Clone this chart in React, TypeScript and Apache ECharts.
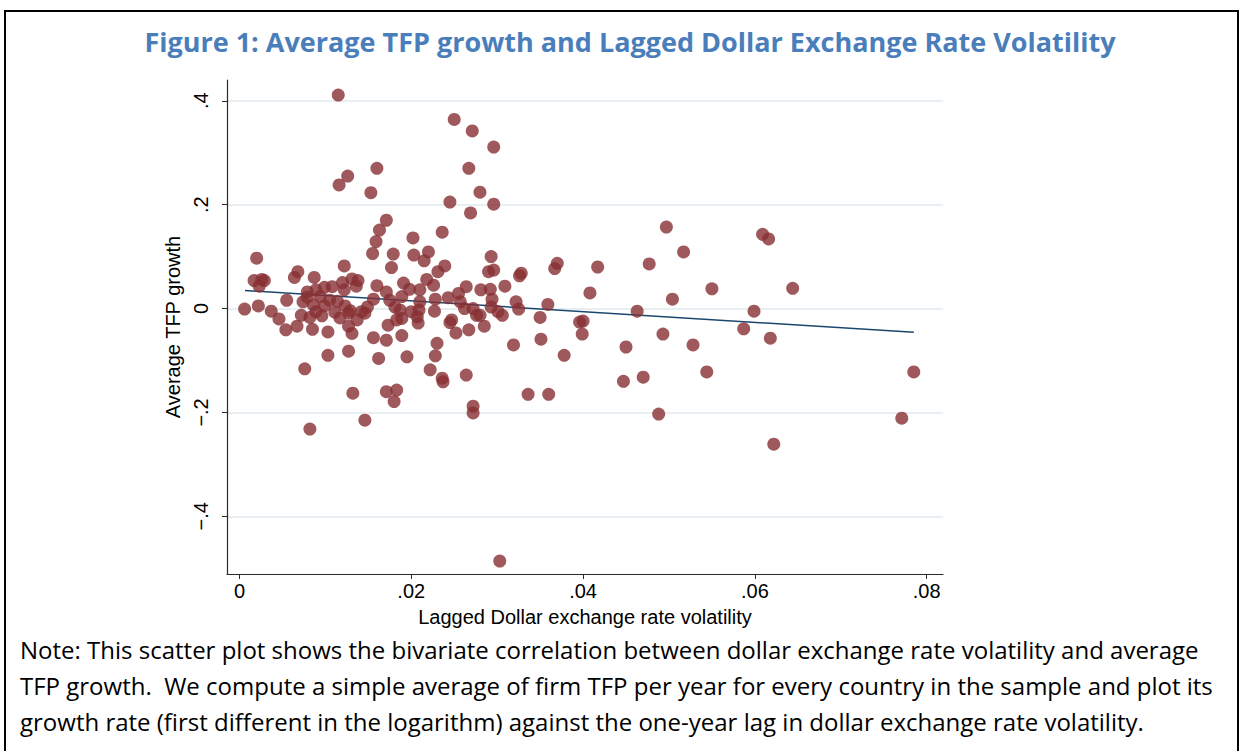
import React, { useEffect, useRef } from "react";
import * as echarts from "echarts";

// Lagged dollar exchange rate volatility (x) and average TFP growth (y)
const xVals = [
  0.0006, 0.002, 0.0017, 0.0026, 0.0029, 0.0023, 0.0022, 0.0037, 0.0046, 0.0054,
  0.0067, 0.0072, 0.0055, 0.0064, 0.0068, 0.0082, 0.0076, 0.0087, 0.0122, 0.0115,
  0.0116, 0.0126, 0.016, 0.0153, 0.0171, 0.0163, 0.0159, 0.0155, 0.0179, 0.0177,
  0.012, 0.0131, 0.0138, 0.0136, 0.016, 0.0171, 0.0175, 0.0181, 0.0079, 0.0089,
  0.0094, 0.0099, 0.0108, 0.0122, 0.0114, 0.0123, 0.0129, 0.0142, 0.0149, 0.0156,
  0.0086, 0.0089, 0.0082, 0.0096, 0.0079, 0.0085, 0.0103, 0.0127, 0.0131, 0.0137,
  0.0127, 0.0146, 0.0156, 0.0171, 0.0173, 0.0183, 0.0103, 0.0127, 0.0162, 0.0132,
  0.0146, 0.0171, 0.0183, 0.018, 0.0189, 0.0195, 0.0202, 0.022, 0.0215, 0.0203,
  0.0231, 0.0239, 0.0191, 0.0198, 0.021, 0.0218, 0.0226, 0.0189, 0.021, 0.0209,
  0.02, 0.0187, 0.0228, 0.0227, 0.0243, 0.0255, 0.0264, 0.0257, 0.0262, 0.0272,
  0.0189, 0.0208, 0.0207, 0.0245, 0.0247, 0.0252, 0.0267, 0.0285, 0.0276, 0.023,
  0.0228, 0.0222, 0.0236, 0.0237, 0.0264, 0.0236, 0.0245, 0.028, 0.0281, 0.0292,
  0.0294, 0.0293, 0.0301, 0.0309, 0.0322, 0.0325, 0.0359, 0.035, 0.0306, 0.0293,
  0.029, 0.0296, 0.0328, 0.0326, 0.0367, 0.037, 0.0267, 0.025, 0.0271, 0.0296,
  0.0269, 0.028, 0.0296, 0.0396, 0.04, 0.0399, 0.0351, 0.0319, 0.0378, 0.0272,
  0.0272, 0.0336, 0.036, 0.0303, 0.0417, 0.0408, 0.0463, 0.045, 0.0447, 0.047,
  0.0497, 0.0517, 0.0477, 0.0504, 0.055, 0.0493, 0.0528, 0.0544, 0.0488, 0.0609,
  0.0616, 0.0644, 0.0599, 0.0587, 0.0618, 0.0622, 0.0785, 0.0771, 0.0105, 0.0111,
  0.0117, 0.0099, 0.0074,
];
const yVals = [
  -0.001, 0.097, 0.054, 0.056, 0.054, 0.043, 0.005, -0.005, -0.02, -0.041,
  -0.034, -0.013, 0.016, 0.06, 0.071, -0.232, -0.116, 0.06, 0.082, 0.411,
  0.238, 0.255, 0.27, 0.223, 0.17, 0.151, 0.129, 0.106, 0.105, 0.079,
  0.05, 0.057, 0.054, 0.043, 0.044, 0.032, 0.016, 0.003, 0.032, 0.036,
  0.023, 0.041, 0.042, 0.036, 0.014, 0.005, -0.004, -0.006, 0.003, 0.018,
  0.007, -0.006, -0.017, -0.014, 0.022, -0.04, -0.045, -0.034, -0.048, -0.022,
  -0.009, -0.009, -0.056, -0.061, -0.032, -0.022, -0.09, -0.082, -0.096, -0.163,
  -0.215, -0.16, -0.157, -0.179, -0.052, -0.093, 0.136, 0.109, 0.092, 0.103,
  0.071, 0.082, 0.049, 0.037, 0.036, 0.056, 0.045, 0.023, 0.013, -0.003,
  -0.006, -0.003, 0.018, -0.005, 0.021, 0.029, 0.042, 0.013, 0.0, 0.0,
  -0.019, -0.028, -0.016, -0.027, -0.022, -0.047, -0.041, -0.034, -0.013, -0.067,
  -0.091, -0.118, -0.134, -0.141, -0.128, 0.147, 0.205, -0.013, 0.036, 0.037,
  0.018, 0.003, -0.006, 0.043, 0.013, -0.001, 0.008, -0.017, -0.013, 0.1,
  0.071, 0.074, 0.068, 0.063, 0.077, 0.087, 0.27, 0.364, 0.342, 0.311,
  0.184, 0.224, 0.201, -0.026, -0.024, -0.049, -0.059, -0.07, -0.09, -0.188,
  -0.201, -0.165, -0.165, -0.486, 0.08, 0.03, -0.005, -0.074, -0.14, -0.132,
  0.157, 0.109, 0.086, 0.018, 0.038, -0.049, -0.07, -0.122, -0.203, 0.143,
  0.134, 0.039, -0.005, -0.039, -0.057, -0.261, -0.122, -0.211, 0.016, -0.007,
  -0.018, 0.005, 0.013,
];

// Fitted (linear fit) line end points
const fitX = [0.00064, 0.0785];
const fitY = [0.0347, -0.0456];

const xTicks = [0, 0.02, 0.04, 0.06, 0.08];
const xTickLabels = ["0", ".02", ".04", ".06", ".08"];
const yTicks = [-0.4, -0.2, 0, 0.2, 0.4];
const yTickLabels = ["\u2212.4", "\u2212.2", "0", ".2", ".4"];

const titleText = "Figure 1: Average TFP growth and Lagged Dollar Exchange Rate Volatility";
const xTitle = "Lagged Dollar exchange rate volatility";
const yTitle = "Average TFP growth";
const noteLines = [
  "Note: This scatter plot shows the bivariate correlation between dollar exchange rate volatility and average",
  "TFP growth.  We compute a simple average of firm TFP per year for every country in the sample and plot its",
  "growth rate (first different in the logarithm) against the one-year lag in dollar exchange rate volatility.",
];

function labelFor(v: number, ticks: number[], labels: string[]) {
  let best = 0;
  for (let i = 1; i < ticks.length; i++) {
    if (Math.abs(ticks[i] - v) < Math.abs(ticks[best] - v)) best = i;
  }
  return labels[best];
}

export default function App() {
  const ref = useRef<HTMLDivElement>(null);
  useEffect(() => {
    if (!ref.current) return;
    const chart = echarts.init(ref.current, undefined, { renderer: "svg" });
    const axisColor = "#2a2a2a";
    const labelFont = "'Liberation Sans', Arial, sans-serif";
    const points = xVals.map((x, i) => [x, yVals[i]]);
    const fitData = fitX.map((x, i) => [x, fitY[i]]);
    chart.setOption({
      animation: false,
      backgroundColor: "#ffffff",
      grid: { left: 227, top: 80, right: 300, bottom: 177, containLabel: false },
      xAxis: {
        type: "value",
        min: -0.00145,
        max: 0.0819,
        axisLine: { show: true, onZero: false, lineStyle: { color: axisColor, width: 1.2 } },
        axisTick: { show: true, length: 5, customValues: xTicks, lineStyle: { color: axisColor } },
        axisLabel: {
          customValues: xTicks,
          formatter: (v: number) => labelFor(v, xTicks, xTickLabels),
          color: "#000",
          fontSize: 20,
          fontFamily: labelFont,
          margin: 7,
        },
        splitLine: { show: false },
        name: xTitle,
        nameLocation: "middle",
        nameGap: 33,
        nameTextStyle: { color: "#000", fontSize: 20, fontFamily: labelFont },
      },
      yAxis: {
        type: "value",
        min: -0.511,
        max: 0.44,
        axisLine: { show: true, onZero: false, lineStyle: { color: axisColor, width: 1.2 } },
        axisTick: { show: true, length: 5, customValues: yTicks, lineStyle: { color: axisColor } },
        axisLabel: {
          customValues: yTicks,
          formatter: (v: number) => labelFor(v, yTicks, yTickLabels),
          rotate: 90,
          color: "#000",
          fontSize: 20,
          fontFamily: labelFont,
          margin: 16,
        },
        splitLine: { show: true, lineStyle: { color: "#e8eff2", width: 2 } },
        name: yTitle,
        nameLocation: "middle",
        nameGap: 38,
        nameTextStyle: { color: "#000", fontSize: 20, fontFamily: labelFont },
      },
      series: [
        {
          type: "line",
          data: fitData,
          z: 2,
          symbol: "none",
          lineStyle: { color: "#1a476f", width: 1.5 },
          silent: true,
        },
        {
          type: "scatter",
          data: points,
          z: 3,
          symbol: "circle",
          symbolSize: 13,
          itemStyle: { color: "#873033" },
        },
      ],
      graphic: [
        {
          type: "rect",
          shape: { x: 5, y: 11, width: 1233, height: 800 },
          style: { fill: "none", stroke: "#000", lineWidth: 2 },
          silent: true,
        },
        {
          type: "text",
          x: 630,
          y: 41,
          style: {
            text: titleText,
            fill: "#4a7ebb",
            font: "bold 27px 'Open Sans', sans-serif",
            textAlign: "center",
            textVerticalAlign: "middle",
          },
        },
        ...noteLines.map((t, i) => ({
          type: "text",
          x: 20,
          y: 649 + i * 36,
          style: {
            text: t,
            fill: "#000",
            font: "24px 'Open Sans', sans-serif",
            textAlign: "left",
            textVerticalAlign: "middle",
          },
        })),
      ],
    });
    return () => chart.dispose();
  }, []);
  return (
    <div
      ref={ref}
      style={{ position: "fixed", left: 0, top: 0, width: 1243, height: 751, background: "#fff" }}
    />
  );
}
